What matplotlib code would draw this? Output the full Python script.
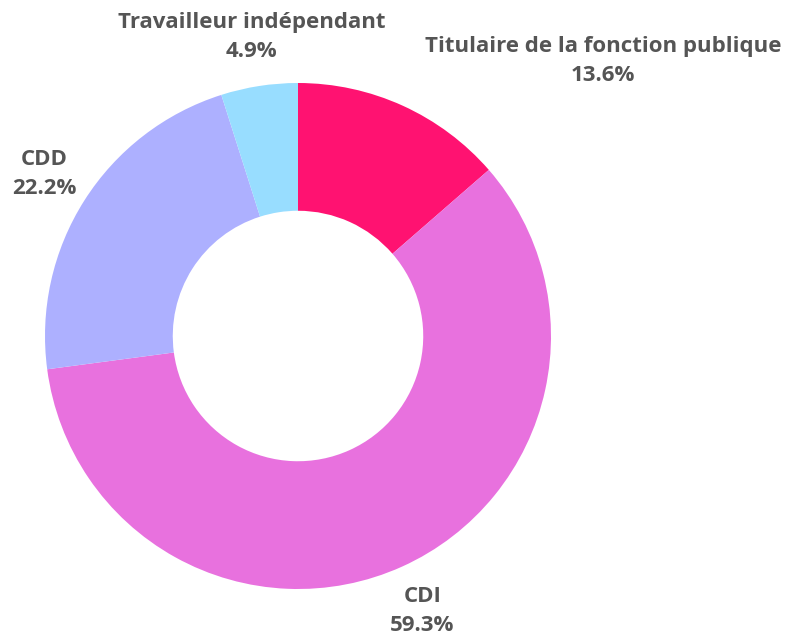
import matplotlib
matplotlib.use("Agg")
import matplotlib.pyplot as plt

categories = ["Titulaire de la fonction publique", "CDI", "CDD", "Travailleur indépendant"]
values = [13.6, 59.3, 22.2, 4.9]
colors = ["#FF1271", "#E871DE", "#ADB0FF", "#98DDFF"]
# label anchor positions (in pie-radius units)
label_pos = [(1.206, 1.087), (0.492, -1.087), (-1.004, 0.640), (-0.183, 1.180)]

W, H = 789, 635
fig = plt.figure(figsize=(W / 100, H / 100), dpi=100)
cx, cy, R = 298, 336, 253
ax = fig.add_axes([(cx - R) / W, (H - cy - R) / H, 2 * R / W, 2 * R / H])
ax.pie(values, colors=colors, startangle=90, counterclock=False, radius=1.0,
       wedgeprops=dict(width=0.505, linewidth=0))
ax.set_xlim(-1, 1)
ax.set_ylim(-1, 1)
ax.set_aspect("equal")
ax.axis("off")

for cat, v, (x, y) in zip(categories, values, label_pos):
    ax.text(x, y, f"{cat}\n{v:.1f}%", ha="center", va="center", fontsize=16,
            fontweight="bold", family=["Open Sans", "DejaVu Sans"], color="#555555",
            linespacing=1.5, clip_on=False)

fig.savefig("out.png", dpi=100)
